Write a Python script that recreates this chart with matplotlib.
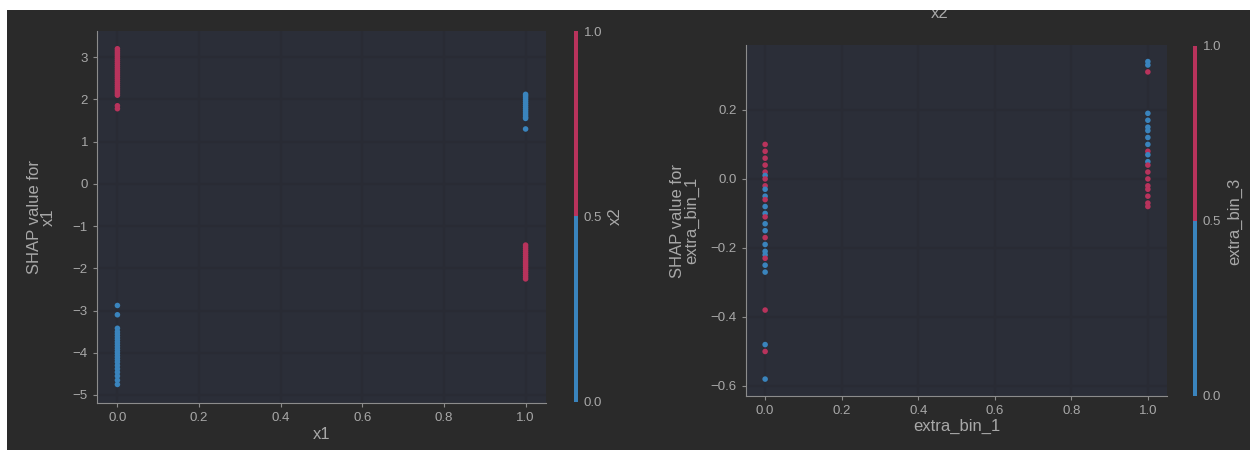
import matplotlib
matplotlib.use("Agg")
import matplotlib.pyplot as plt
from matplotlib.colors import ListedColormap
from matplotlib.patches import Rectangle
import numpy as np

plt.rcParams['font.family'] = ['Liberation Sans', 'DejaVu Sans']

# dependence plot 1: x1 vs SHAP(x1), colored by x2
x1_vals = [0.0] * 25 + [0.0] * 22 + [1.0] * 14 + [1.0] * 17
shap_x1 = [3.2, 3.15, 3.1, 3.05, 3.0, 2.95, 2.9, 2.85, 2.8, 2.75, 2.7, 2.65, 2.6,
           2.55, 2.5, 2.45, 2.4, 2.35, 2.3, 2.25, 2.2, 2.15, 2.1, 1.85, 1.78,
           -2.88, -3.1, -3.42, -3.5, -3.56, -3.62, -3.68, -3.74, -3.8, -3.86, -3.92,
           -3.98, -4.04, -4.1, -4.16, -4.22, -4.3, -4.38, -4.46, -4.55, -4.65, -4.75,
           2.12, 2.08, 2.03, 1.98, 1.93, 1.88, 1.83, 1.78, 1.73, 1.68, 1.63, 1.58, 1.55, 1.3,
           -1.45, -1.5, -1.55, -1.6, -1.65, -1.7, -1.75, -1.8, -1.85, -1.9, -1.95,
           -2.0, -2.05, -2.1, -2.15, -2.2, -2.25]
x2_vals = [1] * 25 + [0] * 22 + [0] * 14 + [1] * 17

# dependence plot 2: extra_bin_1 vs SHAP(extra_bin_1), colored by extra_bin_3
bin1_vals = [0.0] * 27 + [1.0] * 20
shap_bin1 = [0.10, 0.08, 0.06, 0.04, 0.02, 0.01, 0.0, -0.02, -0.03, -0.05, -0.06,
             -0.08, -0.10, -0.11, -0.13, -0.15, -0.17, -0.19, -0.21, -0.22, -0.23,
             -0.25, -0.27, -0.38, -0.48, -0.50, -0.58,
             0.34, 0.33, 0.31, 0.19, 0.17, 0.15, 0.14, 0.12, 0.10, 0.08, 0.07,
             0.05, 0.04, 0.02, 0.0, -0.02, -0.03, -0.05, -0.07, -0.08]
bin3_vals = [1, 1, 1, 1, 1, 0, 1, 1, 0, 0, 1, 0, 0, 1, 0, 0, 1, 0, 0, 0, 1, 0, 0, 1, 0, 1, 0,
             0, 0, 1, 0, 0, 0, 0, 0, 0, 1, 0, 0, 1, 1, 1, 1, 1, 1, 1, 1]

BG = '#2a2a2a'
FACE = '#2b2e38'
GRID = '#292b34'
TXT = '#a8a8a8'
SPINE = '#8c8c8c'
cmap = ListedColormap(['#3a84bd', '#b8335c'])

fig = plt.figure(figsize=(12.5, 4.5), dpi=100, facecolor=BG)


def dep_plot(rect, cbar_rect, x, y, c, xname, cname, ylim, yticks, xpad, ypad, cpad):
    ax = fig.add_axes(rect, facecolor=FACE)
    sc = ax.scatter(x, y, c=c, cmap=cmap, vmin=0, vmax=1, s=16, linewidths=0, zorder=3)
    ax.set_xlim(-0.05, 1.05)
    ax.set_ylim(*ylim)
    ax.set_xticks([0.0, 0.2, 0.4, 0.6, 0.8, 1.0])
    ax.set_yticks(yticks)
    ax.grid(True, color=GRID, linewidth=1.5)
    ax.set_axisbelow(True)
    for s in ['top', 'right']:
        ax.spines[s].set_visible(False)
    for s in ['left', 'bottom']:
        ax.spines[s].set_color(SPINE)
        ax.spines[s].set_linewidth(0.8)
    ax.tick_params(colors=SPINE, labelcolor=TXT, labelsize=9.5, length=3, width=0.8)
    ax.set_xlabel(xname, color=TXT, fontsize=12, labelpad=xpad)
    ax.set_ylabel('SHAP value for\n' + xname, color=TXT, fontsize=12,
                  labelpad=ypad, linespacing=0.95)

    cax = fig.add_axes(cbar_rect)
    cb = fig.colorbar(sc, cax=cax, ticks=[0.0, 0.5, 1.0])
    cb.outline.set_visible(False)
    cb.ax.tick_params(length=0, labelcolor=TXT, labelsize=9.5, pad=4)
    cb.ax.set_yticklabels(['0.0', '0.5', '1.0'])
    cb.set_label(cname, color=TXT, fontsize=12, labelpad=cpad)
    return ax


dep_plot([0.0776, 0.1044, 0.3592, 0.8267], [0.4592, 0.1067, 0.0032, 0.8244],
         x1_vals, shap_x1, x2_vals, 'x1', 'x2',
         (-5.19, 3.62), [-5, -4, -3, -2, -1, 0, 1, 2, 3], 2, 12, 4)
dep_plot([0.5968, 0.12, 0.3368, 0.78], [0.9544, 0.12, 0.0032, 0.7778],
         bin1_vals, shap_bin1, bin3_vals, 'extra_bin_1', 'extra_bin_3',
         (-0.629, 0.388), [-0.6, -0.4, -0.2, 0.0, 0.2], 1, 8, 4)

# leftover label at top edge, partly covered by the white border
fig.text(0.752, 1 - 14 / 450, 'x2', color=TXT, fontsize=12, ha='center', va='center')
fig.patches.append(Rectangle((0, 1 - 10 / 450), 1, 10 / 450, transform=fig.transFigure,
                             facecolor='white', edgecolor='none', zorder=10))
fig.patches.append(Rectangle((0, 0), 7 / 1250, 1, transform=fig.transFigure,
                             facecolor='white', edgecolor='none', zorder=10))

fig.savefig('out.png', dpi=100, facecolor=BG)
